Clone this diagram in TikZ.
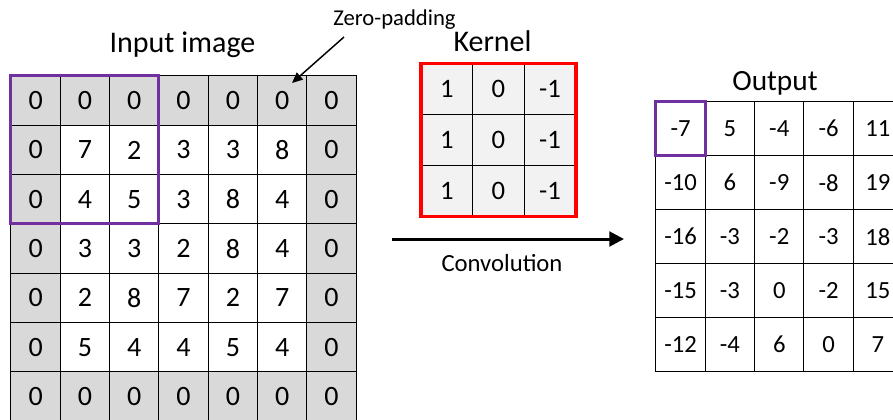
\documentclass[tikz,border=0pt]{standalone}
\usepackage{fontspec}
\setmainfont{Carlito}
\usetikzlibrary{arrows.meta}
\definecolor{padgray}{RGB}{217,217,217}
\definecolor{kgray}{RGB}{242,242,242}
\definecolor{selpurple}{RGB}{112,48,160}
\definecolor{kred}{RGB}{255,0,0}
\tikzset{
  cellbox/.style={draw=black, line width=0.75pt, inner sep=0pt, outer sep=0pt,
    minimum width=37pt, minimum height=37pt, font=\fontsize{21}{25}\selectfont},
  kcell/.style={cellbox, fill=kgray, minimum width=38.7pt, minimum height=38.3pt, font=\fontsize{20}{24}\selectfont},
  ocell/.style={cellbox, fill=white, minimum width=37pt, minimum height=40.5pt, font=\fontsize{18.5}{22}\selectfont},
  selbox/.style={draw=selpurple, line width=2.25pt},
  kframe/.style={draw=kred, line width=2.6pt},
  title/.style={font=\fontsize{22.5}{27}\selectfont, inner sep=0pt},
  smalllabel/.style={font=\fontsize{17}{20}\selectfont, inner sep=0pt},
  bigarrow/.style={line width=2.25pt, -{Triangle[length=11pt,width=11pt]}},
  thinarrow/.style={line width=1.1pt, -{Triangle[length=8pt,width=7pt]}}
}
\begin{document}
\begin{tikzpicture}[x=0.75pt,y=-0.75pt]
\useasboundingbox (0,0) rectangle (893,419);
\clip (0,0) rectangle (893,419);
% Input image grid
\foreach \row [count=\r from 0] in {{0,0,0,0,0,0,0},{0,7,2,3,3,8,0},{0,4,5,3,8,4,0},{0,3,3,2,8,4,0},{0,2,8,7,2,7,0},{0,5,4,4,5,4,0},{0,0,0,0,0,0,0}}{
  \foreach \v [count=\c from 0] in \row {
    \pgfmathtruncatemacro\pad{or(or(\r==0,\r==6),or(\c==0,\c==6))}
    \ifnum\pad=1 \def\cf{padgray}\else\def\cf{white}\fi
    \node[cellbox, fill=\cf] (in-\r-\c) at ({11+49.3*(\c+0.5)},{76+49.3*(\r+0.5)}) {\v};
  }
}
\draw[selbox] (in-0-0.north west) rectangle (in-2-2.south east);
% Kernel
\foreach \r in {0,1,2}{
  \foreach \v [count=\c from 0] in {1,0,-1}{
    \node[kcell] (k-\r-\c) at ({421+51.6*(\c+0.5)},{63.5+51*(\r+0.5)}) {\v};
  }
}
\draw[kframe] (k-0-0.north west) rectangle (k-2-2.south east);
% Output
\foreach \row [count=\r from 0] in {{-7,5,-4,-6,11},{-10,6,-9,-8,19},{-16,-3,-2,-3,18},{-15,-3,0,-2,15},{-12,-4,6,0,7}}{
  \foreach \v [count=\c from 0] in \row {
    \node[ocell] (out-\r-\c) at ({656+49.3*(\c+0.5)},{101.7+54*(\r+0.5)}) {\v};
  }
}
\draw[selbox] (out-0-0.north west) rectangle (out-0-0.south east);
% Labels
\node[title, anchor=base] (lin) at (182.5,52) {Input image};
\node[title, anchor=base] (lk) at (492.5,51) {Kernel};
\node[title, anchor=base, font=\fontsize{22}{26}\selectfont] (lout) at (775,90) {Output};
\node[smalllabel, anchor=base west] (zp) at (333,25) {Zero-padding};
\node[smalllabel, anchor=base, font=\fontsize{18.5}{22}\selectfont] (lconv) at (502,271) {Convolution};
% Arrows
\coordinate (cstart) at (392,239);
\coordinate (cend) at (624,239);
\draw[bigarrow] (cstart) -- (cend);
\coordinate (zptail) at (344,37);
\coordinate (zphead) at (292,83);
\draw[thinarrow] (zptail) -- (zphead);
\end{tikzpicture}
\end{document}
